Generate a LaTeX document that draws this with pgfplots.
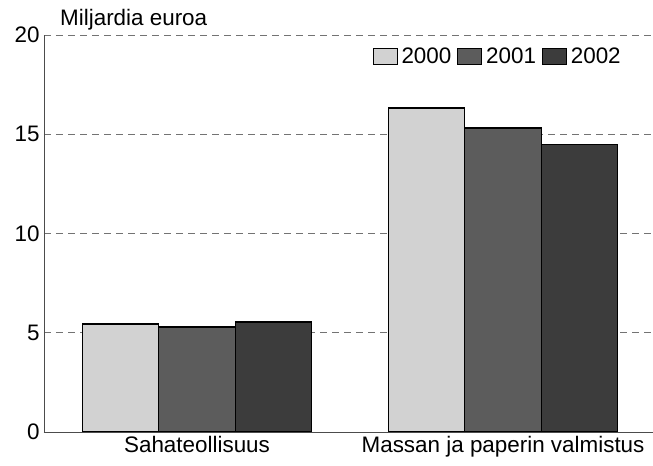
\documentclass[border=0pt]{standalone}
\usepackage{pgfplots}
\pgfplotsset{compat=1.18}
\usepackage{fontspec}
\setmainfont{Liberation Sans}
\definecolor{cA}{HTML}{D2D2D2}
\definecolor{cB}{HTML}{5C5C5C}
\definecolor{cC}{HTML}{3C3C3C}
\begin{document}
\begin{tikzpicture}[x=1bp,y=1bp]
\begin{axis}[
  at={(0,0)}, anchor=south west,
  scale only axis, width=609bp, height=397bp,
  ymin=0, ymax=20, ytick={0,5,10,15,20},
  xmin=-0.5, xmax=1.49,
  xtick={0,1}, xticklabels={Sahateollisuus, Massan ja paperin valmistus},
  ybar=0pt, bar width=0.25,
  axis x line*=bottom, axis y line*=left,
  axis line style={draw=black!70, line width=0.8pt, -},
  major tick length=0pt,
  ymajorgrids, grid style={dash pattern=on 7bp off 5bp, black!55, line width=0.6pt},
  tick label style={font=\fontsize{22.5}{26}\selectfont},
  /pgf/number format/assume math mode=true,
  xticklabel style={yshift=-1bp},
  yticklabel style={xshift=-1bp},
  legend style={at={(0.745,0.945)}, anchor=center, draw=none, fill=none,
    font=\fontsize{22.5}{26}\selectfont, column sep=2bp,
    /tikz/every even column/.append style={column sep=4bp}},
  legend columns=3,
  legend image code/.code={\draw[#1, line width=0.8pt] (0bp,-8bp) rectangle (24bp,8bp);},
]
\addplot[fill=cA, draw=black, line width=1.3pt] coordinates {(0,5.44) (1,16.32)};
\addplot[fill=cB, draw=black, line width=1.3pt] coordinates {(0,5.29) (1,15.31)};
\addplot[fill=cC, draw=black, line width=1.3pt] coordinates {(0,5.54) (1,14.50)};
\legend{2000,2001,2002}
\end{axis}
\node[anchor=base west, inner sep=0pt, font=\fontsize{22.5}{26}\selectfont] at (16,406) {Miljardia euroa};
\pgfresetboundingbox
\path (-44,-34) rectangle (609,432);
\end{tikzpicture}
\end{document}
